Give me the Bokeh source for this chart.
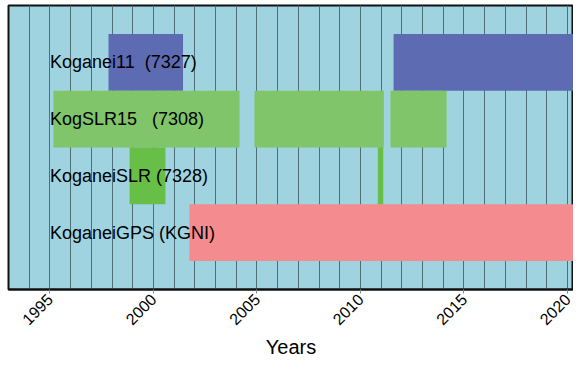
from bokeh.plotting import figure
from bokeh.models import Range1d, SingleIntervalTicker, ColumnDataSource
from bokeh.core.properties import value
from bokeh.embed import file_html
from bokeh.resources import INLINE
import math

# Data
stations = ["Koganei11\u00a0\u00a0(7327)", "KogSLR15\u00a0\u00a0\u00a0(7308)",
            "KoganeiSLR (7328)", "KoganeiGPS (KGNI)"]
row_pos = [4, 3, 2, 1]
seg_station = [0, 0, 1, 1, 1, 2, 2, 3]
seg_start = [1997.83, 2011.6, 1995.17, 2004.88, 2011.45, 1998.85, 2010.84, 2001.74]
seg_end = [2001.43, 2022.0, 2004.16, 2011.13, 2014.16, 2000.58, 2011.10, 2022.0]
station_colors = ["#5d6bb3", "#80c569", "#67bf47", "#f38b8f"]
label_x = 1995.0

p = figure(width=573, height=361, output_backend="svg", toolbar_location=None,
           x_range=Range1d(1993.0, 2020.29), y_range=Range1d(0, 5),
           min_border_left=8, min_border_right=0, min_border_top=5,
           min_border_bottom=0)

p.background_fill_color = "#9fd3df"
p.outline_line_color = "#111111"
p.outline_line_width = 2

src = ColumnDataSource(dict(
    left=seg_start, right=seg_end,
    bottom=[row_pos[s] - 0.5 for s in seg_station],
    top=[row_pos[s] + 0.5 for s in seg_station],
    color=[station_colors[s] for s in seg_station],
))
p.quad(left="left", right="right", bottom="bottom", top="top", color="color",
       line_color=None, source=src)

p.text(x=[label_x] * len(stations), y=row_pos, text=stations,
       text_font=value("Liberation Sans"), text_font_size="18px",
       text_baseline="middle", text_align="left", text_color="black")

p.yaxis.visible = False
p.ygrid.visible = False
p.xgrid.ticker = SingleIntervalTicker(interval=1)
p.xgrid.grid_line_color = "#4f6e78"
p.xgrid.grid_line_width = 1

p.xaxis.ticker = SingleIntervalTicker(interval=5)
p.xaxis.minor_tick_line_color = None
p.xaxis.major_label_orientation = math.pi / 4
p.xaxis.major_label_text_font = "Liberation Sans"
p.xaxis.major_label_text_font_size = "16px"
p.xaxis.major_label_text_color = "black"
p.xaxis.axis_line_color = "#111111"
p.xaxis.axis_line_width = 2
p.xaxis.major_tick_line_color = "#888888"
p.xaxis.major_tick_in = 0
p.xaxis.major_tick_out = 4
p.xaxis.major_label_standoff = 3
p.xaxis.axis_label = "Years"
p.xaxis.axis_label_text_font = "Liberation Sans"
p.xaxis.axis_label_text_font_size = "20px"
p.xaxis.axis_label_text_font_style = "normal"
p.xaxis.axis_label_text_color = "black"
p.xaxis.axis_label_standoff = 3

open("out.html", "w").write(file_html(p, INLINE))
